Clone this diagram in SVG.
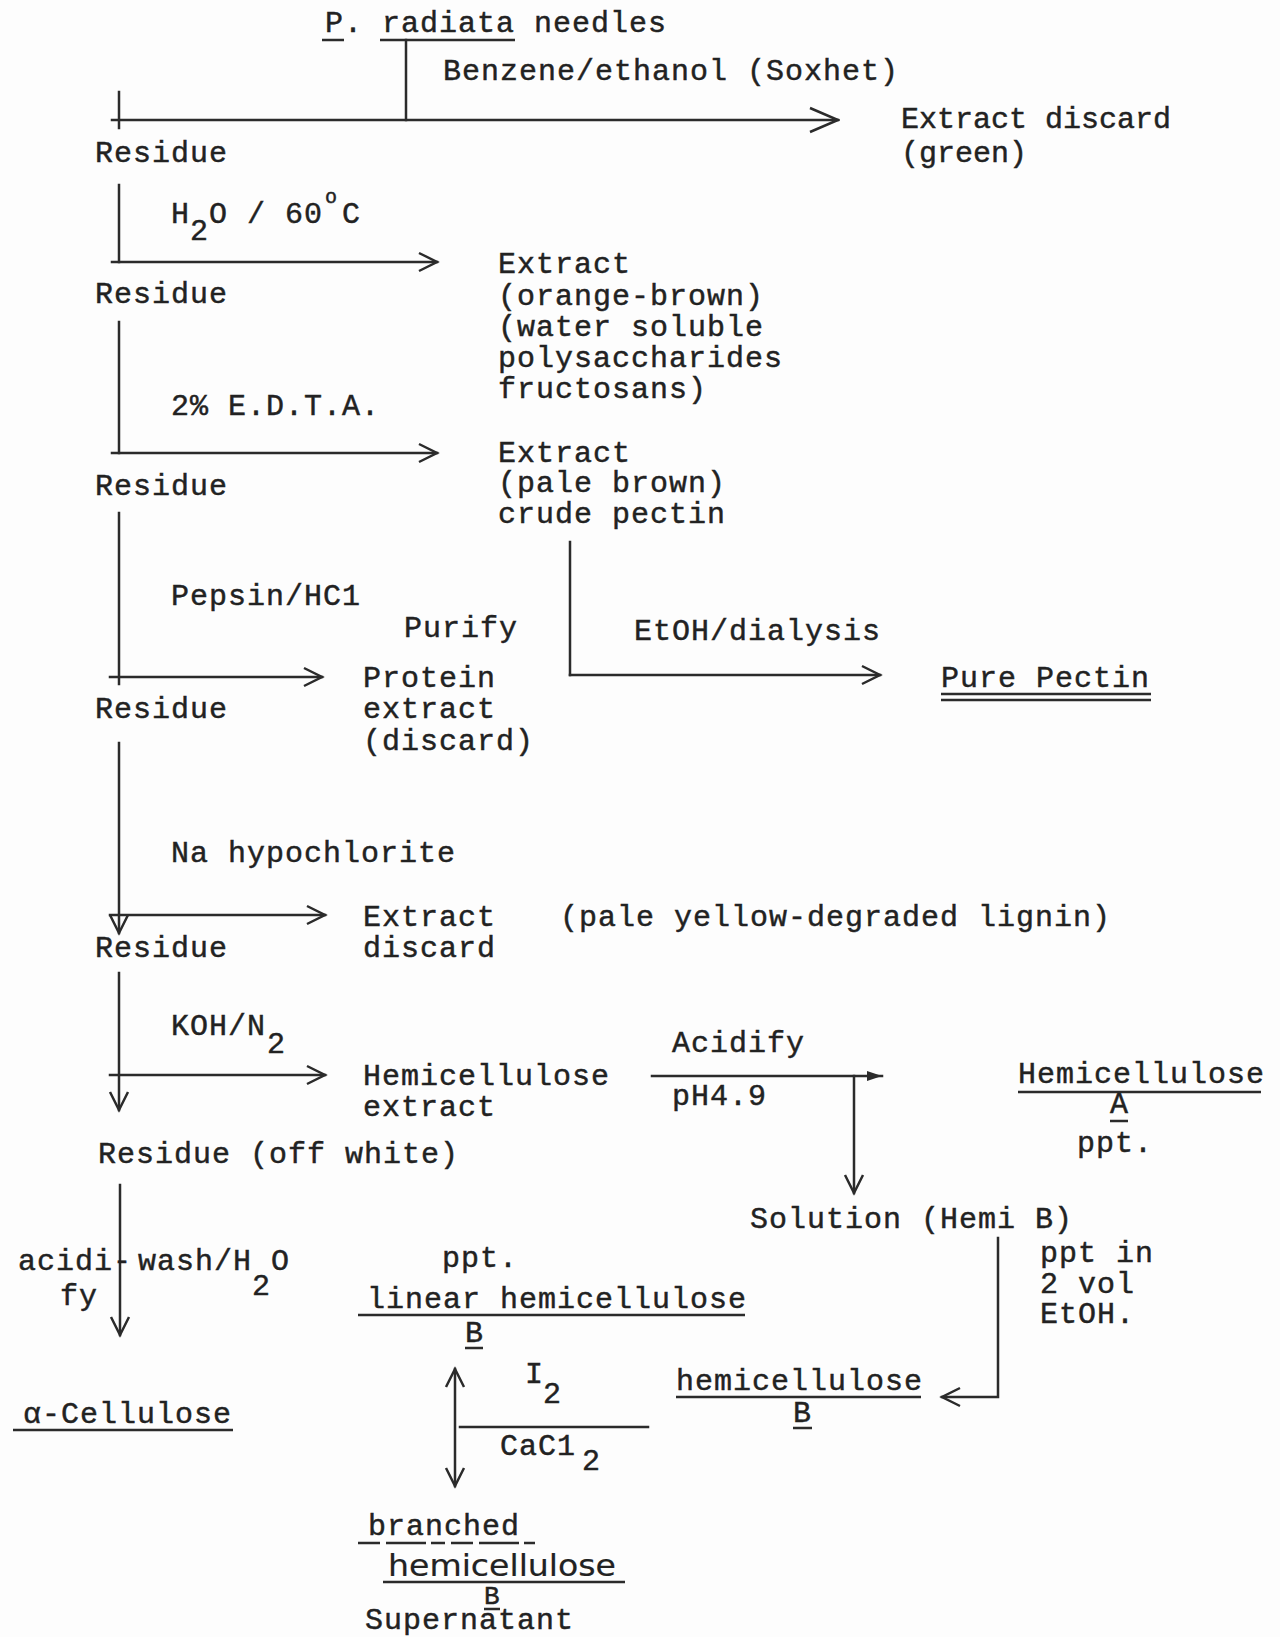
<svg xmlns="http://www.w3.org/2000/svg" width="1280" height="1637" viewBox="0 0 1280 1637">
<defs>
<style>
text{font-family:"Liberation Mono","DejaVu Sans Mono",monospace;font-size:30px;letter-spacing:1px;fill:#222;stroke:#222;stroke-width:0.45px}
.hand{font-family:"DejaVu Sans","Liberation Sans",sans-serif;font-size:30px;letter-spacing:0;stroke-width:0.2px}
.sup{font-size:20px}
.tight{letter-spacing:0}
.ln{stroke:#2b2b2b;stroke-width:2.5;fill:none;stroke-linecap:square}
.ul{stroke:#2b2b2b;stroke-width:2.5;fill:none}
</style>
<marker id="arr" markerUnits="userSpaceOnUse" markerWidth="26" markerHeight="26" viewBox="-22 -13 26 26" refX="0" refY="0" orient="auto-start-reverse"><path d="M-18,-9 L0,0 L-18,9" fill="none" stroke="#2b2b2b" stroke-width="2.5"/></marker>
<marker id="arrL" markerUnits="userSpaceOnUse" markerWidth="34" markerHeight="30" viewBox="-32 -15 34 30" refX="0" refY="0" orient="auto"><path d="M-28,-12 L0,0 L-28,12" fill="none" stroke="#2b2b2b" stroke-width="2.5"/></marker>
<marker id="arrF" markerUnits="userSpaceOnUse" markerWidth="20" markerHeight="14" viewBox="-18 -7 20 14" refX="0" refY="0" orient="auto"><path d="M-15,-5 L0,0 L-15,5 Z" fill="#2b2b2b"/></marker>
</defs>
<rect width="1280" height="1637" fill="#fdfdfd"/>

<g id="connectors">
<line class="ln" x1="406" y1="40" x2="406" y2="120"/>
<line class="ln" x1="112" y1="120" x2="838" y2="120" marker-end="url(#arrL)"/>
<line class="ln" x1="119" y1="92" x2="119" y2="128"/>
<line class="ln" x1="119" y1="185" x2="119" y2="262"/>
<line class="ln" x1="112" y1="262" x2="437" y2="262" marker-end="url(#arr)"/>
<line class="ln" x1="119" y1="322" x2="119" y2="453"/>
<line class="ln" x1="112" y1="453" x2="437" y2="453" marker-end="url(#arr)"/>
<line class="ln" x1="119" y1="513" x2="119" y2="684"/>
<line class="ln" x1="110" y1="677" x2="322" y2="677" marker-end="url(#arr)"/>
<line class="ln" x1="570" y1="542" x2="570" y2="675"/>
<line class="ln" x1="570" y1="675" x2="880" y2="675" marker-end="url(#arr)"/>
<line class="ln" x1="119" y1="743" x2="119" y2="933" marker-end="url(#arr)"/>
<line class="ln" x1="110" y1="915" x2="325" y2="915" marker-end="url(#arr)"/>
<line class="ln" x1="119" y1="973" x2="119" y2="1110" marker-end="url(#arr)"/>
<line class="ln" x1="110" y1="1075" x2="325" y2="1075" marker-end="url(#arr)"/>
<line class="ln" x1="652" y1="1076" x2="882" y2="1076" marker-end="url(#arrF)"/>
<line class="ln" x1="854" y1="1076" x2="854" y2="1193" marker-end="url(#arr)"/>
<line class="ln" x1="120" y1="1185" x2="120" y2="1335" marker-end="url(#arr)"/>
<polyline class="ln" points="998,1238 998,1397 942,1397" marker-end="url(#arr)"/>
<line class="ln" x1="455" y1="1369" x2="455" y2="1486" marker-start="url(#arr)" marker-end="url(#arr)"/>
<line class="ln" x1="460" y1="1427" x2="648" y2="1427"/>
</g>

<g id="n-needles">
<text x="325" y="32">P. radiata needles</text>
<line class="ul" x1="322" y1="40" x2="344" y2="40"/>
<line class="ul" x1="380" y1="40" x2="515" y2="40"/>
</g>
<g id="l-benzene"><text x="443" y="80">Benzene/ethanol (Soxhet)</text></g>
<g id="n-extract1"><text class="tight" x="901" y="128">Extract discard</text><text class="tight" x="901" y="162">(green)</text></g>
<g id="n-residue1"><text x="95" y="162">Residue</text></g>
<g id="l-h2o">
<text x="171" y="223">H</text><text x="190" y="240">2</text><text x="209" y="223">O / 60</text><text class="sup" x="325" y="203" style="letter-spacing:0">o</text><text x="342" y="223">C</text>
</g>
<g id="n-extract2">
<text x="498" y="273">Extract</text>
<text x="498" y="305">(orange-brown)</text>
<text x="498" y="336">(water soluble</text>
<text x="498" y="367">polysaccharides</text>
<text x="498" y="398">fructosans)</text>
</g>
<g id="n-residue2"><text x="95" y="303">Residue</text></g>
<g id="l-edta"><text x="171" y="415">2% E.D.T.A.</text></g>
<g id="n-extract3">
<text x="498" y="462">Extract</text>
<text x="498" y="492">(pale brown)</text>
<text x="498" y="523">crude pectin</text>
</g>
<g id="n-residue3"><text x="95" y="495">Residue</text></g>
<g id="l-pepsin"><text x="171" y="605">Pepsin/HC1</text></g>
<g id="l-purify"><text x="404" y="637">Purify</text></g>
<g id="l-etoh"><text x="634" y="640">EtOH/dialysis</text></g>
<g id="n-protein">
<text x="363" y="687">Protein</text>
<text x="363" y="718">extract</text>
<text x="363" y="750">(discard)</text>
</g>
<g id="n-pectin">
<text x="941" y="687">Pure Pectin</text>
<line class="ul" x1="941" y1="694" x2="1151" y2="694"/>
<line class="ul" x1="941" y1="700" x2="1151" y2="700"/>
</g>
<g id="n-residue4"><text x="95" y="718">Residue</text></g>
<g id="l-naocl"><text x="171" y="862">Na hypochlorite</text></g>
<g id="n-extract4">
<text x="363" y="926">Extract</text>
<text x="363" y="957">discard</text>
<text x="560" y="926">(pale yellow-degraded lignin)</text>
</g>
<g id="n-residue5"><text x="95" y="957">Residue</text></g>
<g id="l-koh"><text x="171" y="1035">KOH/N</text><text x="267" y="1053">2</text></g>
<g id="n-hemiext">
<text x="363" y="1085">Hemicellulose</text>
<text x="363" y="1116">extract</text>
</g>
<g id="l-acidify"><text x="672" y="1052">Acidify</text><text x="672" y="1105">pH4.9</text></g>
<g id="n-hemiA">
<text x="1018" y="1083">Hemicellulose</text>
<line class="ul" x1="1018" y1="1092" x2="1261" y2="1092"/>
<text x="1110" y="1113">A</text>
<line class="ul" x1="1110" y1="1121" x2="1128" y2="1121"/>
<text x="1077" y="1152">ppt.</text>
</g>
<g id="n-residue6"><text x="98" y="1163">Residue (off white)</text></g>
<g id="n-solution"><text x="750" y="1228">Solution (Hemi B)</text></g>
<g id="l-pptin">
<text x="1040" y="1262">ppt in</text>
<text x="1040" y="1293">2 vol</text>
<text x="1040" y="1323">EtOH.</text>
</g>
<g id="l-wash">
<text x="18" y="1270">acidi-</text>
<text x="60" y="1305">fy</text>
<text x="138" y="1270">wash/H</text><text x="252" y="1295">2</text><text x="271" y="1270">O</text>
</g>
<g id="n-linear">
<text x="442" y="1267">ppt.</text>
<text x="367" y="1308">linear hemicellulose</text>
<line class="ul" x1="358" y1="1315" x2="745" y2="1315"/>
<text x="465" y="1342">B</text>
<line class="ul" x1="465" y1="1348" x2="483" y2="1348"/>
</g>
<g id="n-hemiB">
<text x="676" y="1390">hemicellulose</text>
<line class="ul" x1="676" y1="1397" x2="921" y2="1397"/>
<text x="793" y="1422">B</text>
<line class="ul" x1="793" y1="1428" x2="812" y2="1428"/>
</g>
<g id="n-cellulose">
<text x="23" y="1423">α-Cellulose</text>
<line class="ul" x1="13" y1="1430" x2="233" y2="1430"/>
</g>
<g id="l-i2"><text x="525" y="1383">I</text><text x="543" y="1403">2</text></g>
<g id="l-cacl2"><text x="500" y="1455">CaC1</text><text x="582" y="1470">2</text></g>
<g id="n-branched">
<text x="368" y="1535">branched</text>
<line class="ul" x1="358" y1="1543" x2="535" y2="1543" stroke-dasharray="22,6,40,5,14,6"/>
<text class="hand" x="388" y="1576" textLength="228" lengthAdjust="spacingAndGlyphs">hemicellulose</text>
<line class="ul" x1="383" y1="1582" x2="625" y2="1582"/>
<text x="484" y="1604" style="font-size:26px">B</text>
<line class="ul" x1="484" y1="1609" x2="500" y2="1609"/>
<text x="365" y="1629">Supernatant</text>
</g>
</svg>
